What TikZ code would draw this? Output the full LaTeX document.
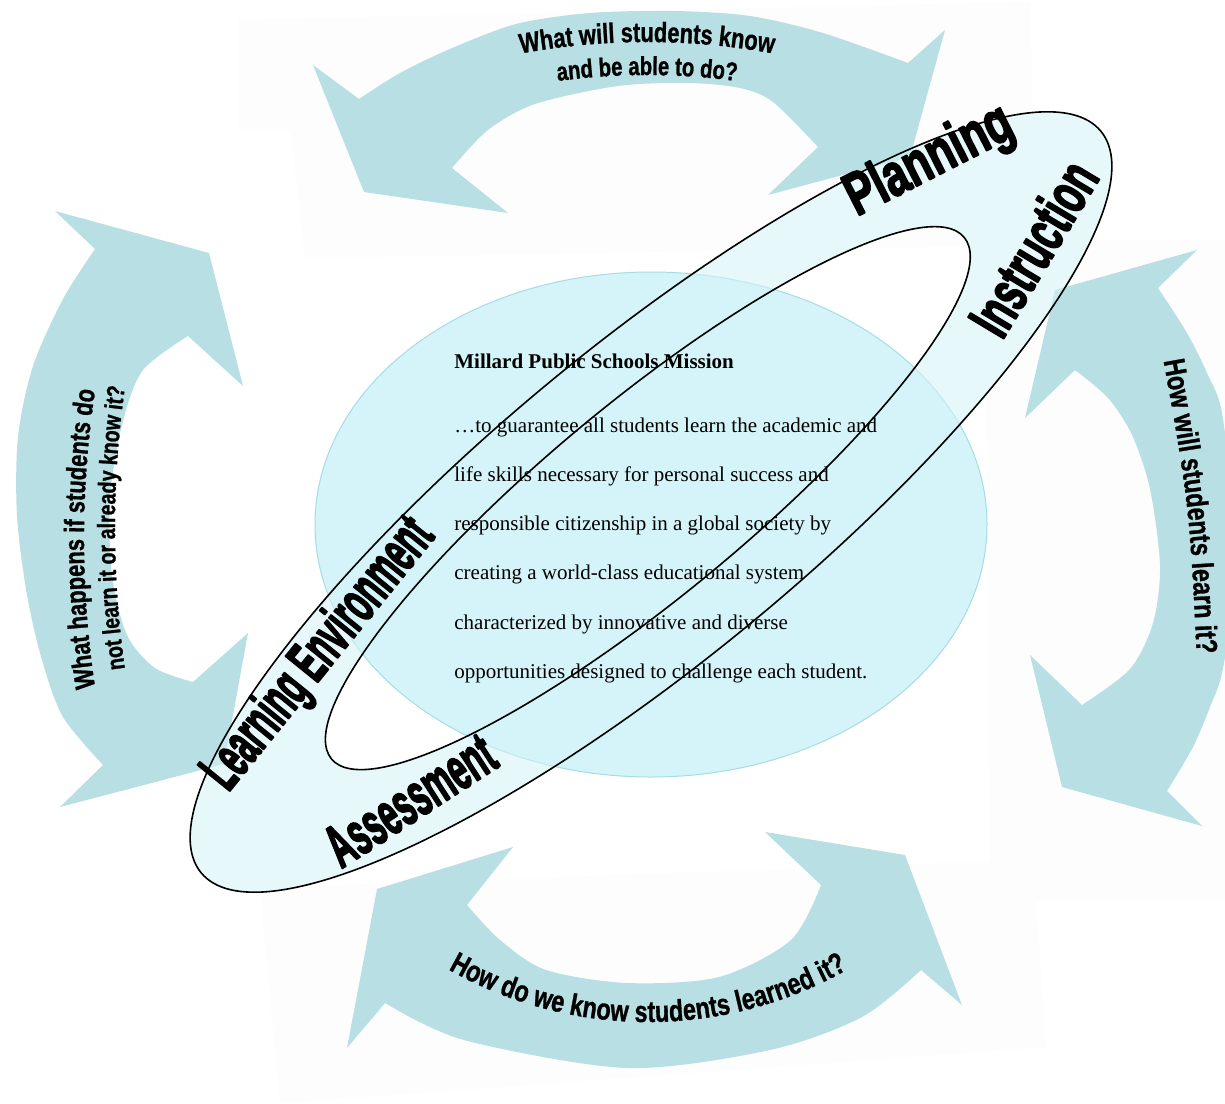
\documentclass[tikz,border=0pt]{standalone}
\usepackage{fontspec}
\usepackage{graphicx}
\setmainfont{Liberation Serif}
\newfontfamily\arrowfont[FakeStretch=0.78, FakeBold=1]{Liberation Sans}
\newfontfamily\labfont[FakeBold=3.5]{Liberation Sans}
\usetikzlibrary{decorations.text}
\definecolor{arrowc}{HTML}{B8DFE3}
\definecolor{midc}{HTML}{D4F4F9}
\definecolor{midedge}{HTML}{A6DCE2}
\definecolor{bgc}{HTML}{FDFDFD}
\newcommand\arrtxtA{\arrowfont\bfseries\fontsize{14}{14}\selectfont}
\newcommand\arrtxtB{\arrowfont\bfseries\fontsize{13}{13}\selectfont}
\newcommand\arrtxtC{\arrowfont\bfseries\fontsize{12.5}{12.5}\selectfont}
\newcommand\arrtxtD{\arrowfont\bfseries\fontsize{15}{15}\selectfont}
\tikzset{
  arrowshape/.style={fill=arrowc},
  bgrect/.style={fill=bgc},
  ringline/.style={draw=black, line width=0.8pt},
  mission/.style={anchor=base west, inner sep=0pt, font=\fontsize{10.5}{12}\selectfont},
  wordart/.style={inner sep=0pt, font=\labfont\bfseries\fontsize{30}{30}\selectfont},
}
\begin{document}
\begin{tikzpicture}[x=0.5pt, y=-0.5pt, line join=round]
\useasboundingbox (0,0) rectangle (1225,1103);
\clip (0,0) rectangle (1225,1103);
\fill[white] (0,0) rectangle (1225,1103);

% faint background panels
\fill[bgrect] (238,20) -- (1030,2) -- (1035,245) -- (305,258) -- (291,130) -- (238,130) -- cycle;
\fill[bgrect] (260,888) -- (1033,860) -- (1046,1047) -- (280,1103) -- cycle;
\fill[bgrect] (985,240) -- (1225,240) -- (1225,900) -- (990,900) -- cycle;

% top arrow
\fill[arrowshape] (359,99) -- (313,65) -- (364,192) -- (508,213) -- (452,168)
  -- plot[smooth] coordinates {(452,168) (488,130) (535,104) (618,86) (689,83) (740,88) (773,102) (818,147)}
  -- (768,195) -- (910,157) -- (945,30) -- (908,63)
  -- plot[smooth] coordinates {(908,63) (823,33) (750,16) (674,11) (590,13) (516,24) (450,49) (400,73) (359,99)}
  -- cycle;
% left arrow
\fill[arrowshape] (95,249) -- (55,211) -- (209,253) -- (243,386) -- (188,336)
  -- plot[smooth] coordinates {(188,336) (143,370) (123,421) (110,496) (112,575) (127,635) (155,668) (193,682)}
  -- (248,633) -- (224,764) -- (60,807) -- (103,765)
  -- plot[smooth] coordinates {(103,765) (63,717) (42,660) (27,595) (17,516) (18,437) (33,366) (63,299) (95,249)}
  -- cycle;
% right arrow
\fill[arrowshape] (1158,288) -- (1197,250) -- (1055,290) -- (1025,418) -- (1075,370)
  -- plot[smooth] coordinates {(1075,370) (1108,398) (1132,435) (1150,489) (1160,566) (1153,623) (1130,669) (1082,705)}
  -- (1030,655) -- (1062,787) -- (1202,826) -- (1167,791)
  -- plot[smooth] coordinates {(1167,791) (1193,747) (1210,707) (1222,673) (1233,600) (1234,520) (1222,413) (1207,373) (1187,333) (1158,288)}
  -- cycle;
% bottom arrow
\fill[arrowshape] (385,1003) -- (347,1048) -- (377,889) -- (513,847) -- (467,905)
  -- plot[smooth] coordinates {(467,905) (500,940) (546,970) (627,983) (719,977) (791,940) (821,885)}
  -- (765,832) -- (905,855) -- (962,1005) -- (921,970)
  -- plot[smooth] coordinates {(921,970) (862,1017) (770,1050) (627,1068) (464,1040) (385,1003)}
  -- cycle;

% arrow texts
\path[decorate, decoration={text along path, text align=center,
  text={|\arrtxtA|What will students know}}]
  (647,739) ++(-110:697) arc[start angle=-110, end angle=-70, radius=697];
\path[decorate, decoration={text along path, text align=center,
  text={|\arrtxtB|and be able to do?}}]
  (647,739) ++(-110:664) arc[start angle=-110, end angle=-70, radius=664];
\path[decorate, decoration={text along path, text align=center,
  text={|\arrtxtA|What happens if students do}}]
  (1084,539) ++(168:1000) arc[start angle=168, end angle=192, radius=1000];
\path[decorate, decoration={text along path, text align=center,
  text={|\arrtxtC|not learn it or already know it?}}]
  (1115,528) ++(168:1000) arc[start angle=168, end angle=192, radius=1000];
\path[decorate, decoration={text along path, text align=center,
  text={|\arrtxtD|How will students learn it?}}]
  (1158,330) .. controls (1190,506) .. (1198,685);
\path[decorate, decoration={text along path, text align=center,
  text={|\arrtxtD|How do we know students learned it?}}]
  (648,617) ++(128:405) arc[start angle=128, end angle=52, radius=405];

% central mission ellipse
\filldraw[fill=midc, draw=midedge, line width=0.5pt] (651,524.5) ellipse[x radius=336, y radius=252.5];

% ring fill
\fill[midc, fill opacity=0.55, even odd rule, rotate around={39.5:(651,502)}]
  (651,502) ellipse[x radius=583, y radius=157]
  (651,497) ellipse[x radius=410, y radius=97.5];

% mission text
\node[mission] (m0) at (454,368) {\bfseries Millard Public Schools Mission};
\node[mission] (m1) at (454,432) {…to guarantee all students learn the academic and};
\node[mission] (m2) at (454,481) {life skills necessary for personal success and};
\node[mission] (m3) at (454,530) {responsible citizenship in a global society by};
\node[mission] (m4) at (454,579) {creating a world-class educational system};
\node[mission] (m5) at (454,629) {characterized by innovative and diverse};
\node[mission] (m6) at (454,678) {opportunities designed to challenge each student.};

% ring outlines
\draw[ringline, rotate around={39.5:(651,502)}]
  (651,502) ellipse[x radius=583, y radius=157]
  (651,497) ellipse[x radius=410, y radius=97.5];

% word-art labels
\node[wordart, rotate=27] (planning) at (930,162) {\scalebox{0.71}[1]{Planning}};
\node[wordart, rotate=59] (instruction) at (1033,248) {\scalebox{0.616}[1]{Instruction}};
\node[wordart, rotate=51] (learnenv) at (320,655) {\scalebox{0.518}[1]{Learning Environment}};
\node[wordart, rotate=33] (assess) at (410,800) {\scalebox{0.538}[1]{Assessment}};
\end{tikzpicture}
\end{document}
